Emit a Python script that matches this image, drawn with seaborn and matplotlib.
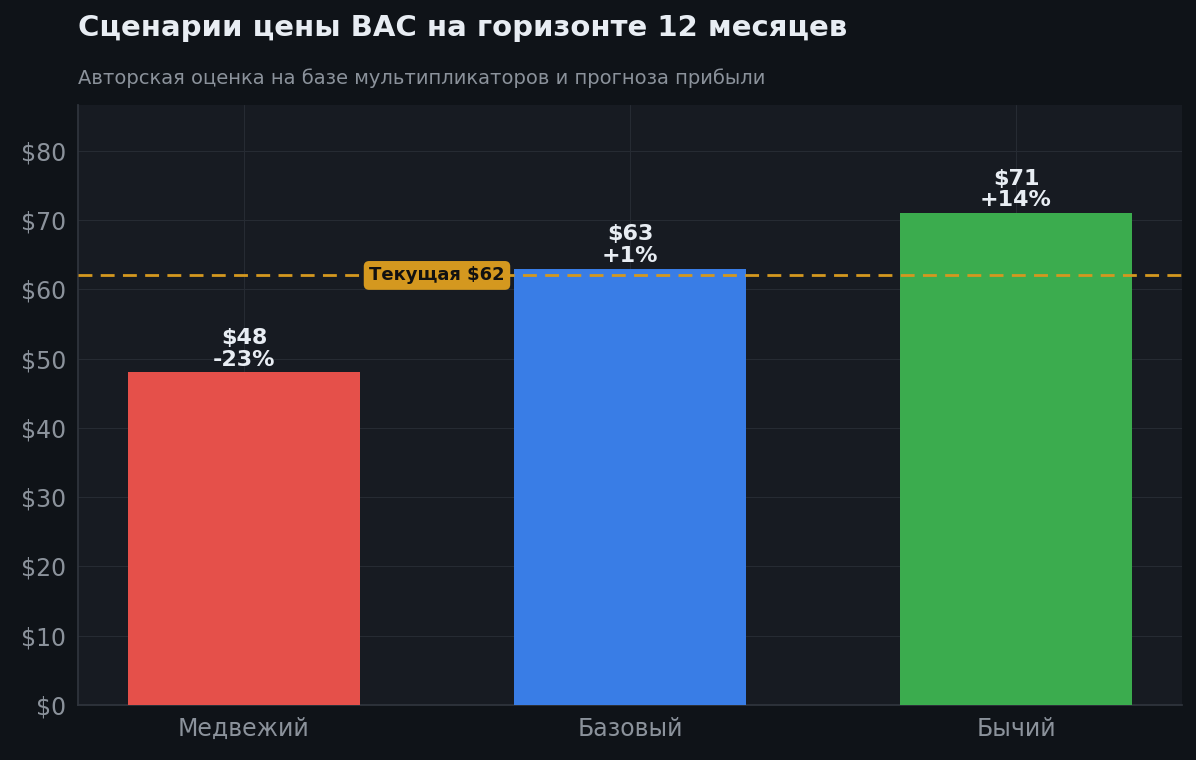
import matplotlib
matplotlib.use("Agg")
import matplotlib.pyplot as plt
import seaborn as sns
import pandas as pd

scenarios = ["Медвежий", "Базовый", "Бычий"]
targets = [48, 63, 71]
changes = ["-23%", "+1%", "+14%"]
current_price = 62
colors = ["#e5504a", "#397de6", "#3bac4e"]

sns.set_theme(style="dark")
plt.rcParams['font.family'] = 'sans-serif'
plt.rcParams['font.sans-serif'] = ['DejaVu Sans', 'Liberation Sans']

fig = plt.figure(figsize=(11.96, 7.6), dpi=100, facecolor="#0f1318")
ax = fig.add_axes([78 / 1196, 55 / 760, 1104 / 1196, 600 / 760])
ax.set_facecolor("#171b22")

df = pd.DataFrame({"scenario": scenarios, "target": targets})
sns.barplot(data=df, x="scenario", y="target", hue="scenario", palette=colors,
            width=0.6, saturation=1, legend=False, ax=ax, zorder=3,
            edgecolor="none", linewidth=0)

for i, (v, c) in enumerate(zip(targets, changes)):
    ax.text(i, v + 0.4, f"${v}\n{c}", ha="center", va="bottom", color="#e8edf3",
            fontsize=16, fontweight="bold", linespacing=1.1, zorder=5)

ax.axhline(current_price, color="#d4981f", linestyle="--", linewidth=2, dashes=(5, 3), zorder=4)
ax.text(0.5, current_price, f"Текущая ${current_price}", ha="center", va="center",
        fontsize=13, fontweight="bold", color="#111111", zorder=6,
        bbox=dict(boxstyle="round,pad=0.3", facecolor="#d4981f", edgecolor="none"))

ax.set_ylim(0, 86.6)
ax.set_xlim(-0.43, 2.43)
ax.set_yticks(range(0, 81, 10))
ax.set_yticklabels([f"${t}" for t in range(0, 81, 10)])
ax.grid(True, color="#262b33", linewidth=0.8, zorder=0)
ax.set_axisbelow(True)
ax.tick_params(colors="#8b929b", labelsize=17, length=5, color="#3a4049")
ax.set_xlabel("")
ax.set_ylabel("")
for side in ["top", "right"]:
    ax.spines[side].set_visible(False)
for side in ["left", "bottom"]:
    ax.spines[side].set_color("#30353d")

fig.text(78 / 1196, 1 - 28 / 760, "Сценарии цены BAC на горизонте 12 месяцев",
         color="#e8edf3", fontsize=21, fontweight="bold", va="center")
fig.text(78 / 1196, 1 - 78 / 760, "Авторская оценка на базе мультипликаторов и прогноза прибыли",
         color="#8b929b", fontsize=14, va="center")

fig.savefig("out.png", dpi=100, facecolor=fig.get_facecolor())
